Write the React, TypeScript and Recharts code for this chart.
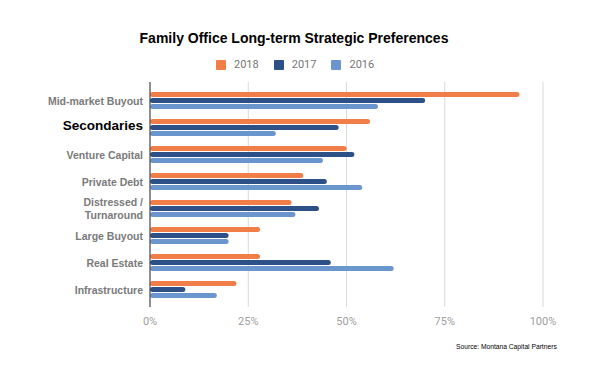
import { Bar, BarChart, CartesianGrid, XAxis, YAxis } from "recharts";

const categories = [
  "Mid-market Buyout",
  "Secondaries",
  "Venture Capital",
  "Private Debt",
  "Distressed / Turnaround",
  "Large Buyout",
  "Real Estate",
  "Infrastructure",
];
const y2018 = [94, 56, 50, 39, 36, 28, 28, 22];
const y2017 = [70, 48, 52, 45, 43, 20, 46, 9];
const y2016 = [58, 32, 44, 54, 37, 20, 62, 17];
const xTicks = [0, 25, 50, 75, 100];

const series = [
  { key: "y2018", label: "2018", color: "#F17E48" },
  { key: "y2017", label: "2017", color: "#2D5186" },
  { key: "y2016", label: "2016", color: "#6A95CD" },
];

const rows = categories.map((name, i) => ({
  name,
  y2018: y2018[i],
  y2017: y2017[i],
  y2016: y2016[i],
}));

const font = "'Liberation Sans', Arial, sans-serif";

function CatTick(props: any) {
  const { x, y, payload } = props;
  const v: string = payload.value;
  const tx = x + 1;
  if (v === "Secondaries") {
    return (
      <text x={tx} y={y} dy={2} textAnchor="end" fontFamily={font} fontWeight="bold" fontSize={13.5} fill="#000">
        {v}
      </text>
    );
  }
  const lines = v === "Distressed / Turnaround" ? ["Distressed /", "Turnaround"] : [v];
  const start = -((lines.length - 1) * 13) / 2;
  return (
    <text x={tx} y={y} textAnchor="end" fontFamily={font} fontWeight="bold" fontSize={10.5} fill="#7a7a7a">
      {lines.map((l, i) => (
        <tspan key={i} x={tx} dy={i === 0 ? start + 4 : 13}>
          {l}
        </tspan>
      ))}
    </text>
  );
}

export default function App() {
  return (
    <div style={{ position: "absolute", left: 0, top: 0, width: 600, height: 371, background: "#fff" }}>
      <div
        style={{
          position: "absolute",
          top: 30,
          width: 600,
          textAlign: "center",
          fontFamily: font,
          fontWeight: "bold",
          fontSize: 14,
          color: "#000",
          left: -6,
        }}
      >
        Family Office Long-term Strategic Preferences
      </div>
      <div
        style={{
          position: "absolute",
          top: 58,
          left: 216,
          display: "flex",
          fontFamily: "Roboto, sans-serif",
          fontSize: 11,
          color: "#757575",
        }}
      >
        {series.map((s) => (
          <div key={s.key} style={{ display: "flex", alignItems: "center", marginRight: 15 }}>
            <span style={{ width: 10, height: 10, background: s.color, borderRadius: 1, marginRight: 8 }} />
            <span>{s.label}</span>
          </div>
        ))}
      </div>
      <BarChart
        width={600}
        height={371}
        data={rows}
        layout="vertical"
        margin={{ top: 82, right: 57, bottom: 34, left: 10 }}
        barSize={5}
        barGap={1}
      >
        <CartesianGrid horizontal={false} stroke="#d9d9d9" />
        <XAxis
          type="number"
          domain={[0, 100]}
          ticks={xTicks}
          tickFormatter={(v) => `${v}%`}
          axisLine={false}
          tickLine={false}
          height={30}
          tick={{ fill: "#9e9e9e", fontSize: 11, fontFamily: "Roboto, sans-serif" }}
          tickMargin={4}
        />
        <YAxis
          type="category"
          dataKey="name"
          width={140}
          axisLine={{ stroke: "#333" }}
          tickLine={false}
          tick={<CatTick />}
          padding={{ top: 5, bottom: 4 }}
        />
        {series.map((s) => (
          <Bar key={s.key} dataKey={s.key} fill={s.color} radius={2.5} isAnimationActive={false} />
        ))}
      </BarChart>
      <div
        style={{
          position: "absolute",
          top: 343,
          left: 456,
          fontFamily: font,
          fontSize: 6.7,
          color: "#000",
        }}
      >
        Source: Montana Capital Partners
      </div>
    </div>
  );
}
